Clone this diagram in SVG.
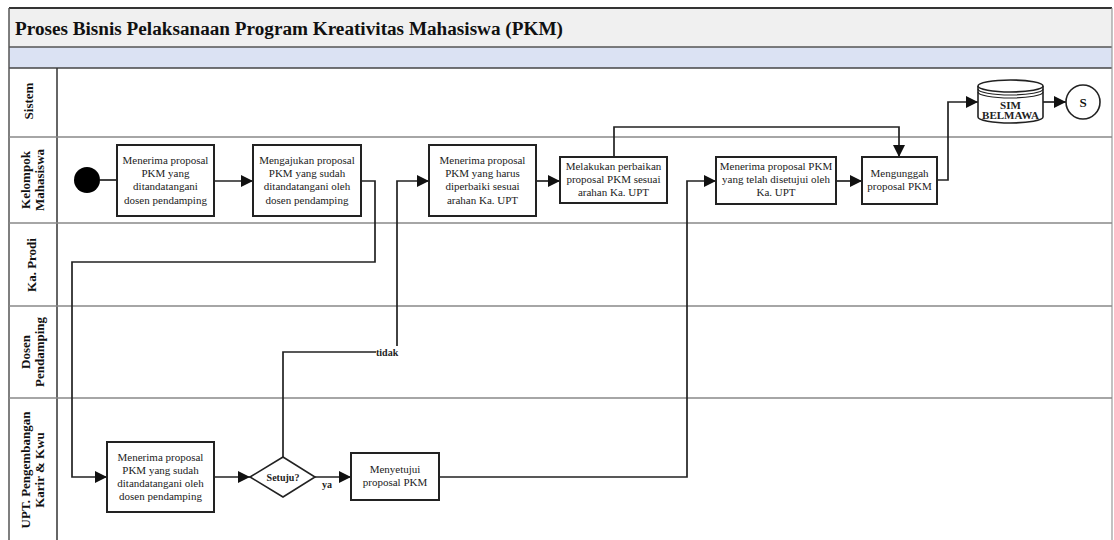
<svg xmlns="http://www.w3.org/2000/svg" width="1114" height="540" viewBox="0 0 1114 540">
  <style>
    text { font-family: "Liberation Serif", "DejaVu Serif", serif; }
    .lane-label { font-weight: bold; font-size: 13px; fill: #111; text-anchor: middle; }
    .box { fill: #fff; stroke: #222; stroke-width: 2; }
    .box-text { font-size: 11px; fill: #222; text-anchor: middle; }
    .flow { fill: none; stroke: #222; stroke-width: 1.7; }
    .lane-line { stroke: #888; stroke-width: 1.3; }
    .small-bold { font-weight: bold; font-size: 10px; fill: #222; }
  </style>
  <defs>
    <marker id="arrow" markerUnits="userSpaceOnUse" markerWidth="14" markerHeight="12" refX="12" refY="6" orient="auto">
      <path d="M0,0 L12,6 L0,12 Z" fill="#111"/>
    </marker>
  </defs>

  <rect width="1114" height="540" fill="#fff"/>

  <!-- pool header -->
  <g id="pool">
    <rect x="9" y="8" width="1103" height="39" fill="#f0f0f0"/>
    <rect x="9" y="47" width="1103" height="21" fill="#dbe2f3"/>
    <text x="15" y="35" font-weight="bold" font-size="19.2" fill="#111">Proses Bisnis Pelaksanaan Program Kreativitas Mahasiswa (PKM)</text>
    <line x1="9" y1="47" x2="1112" y2="47" stroke="#555" stroke-width="1.5"/>
    <line x1="9" y1="68" x2="1112" y2="68" stroke="#444" stroke-width="1.5"/>
    <line x1="9" y1="8" x2="1112" y2="8" stroke="#333" stroke-width="2"/>
    <line x1="9" y1="8" x2="9" y2="540" stroke="#555" stroke-width="1.5"/>
    <line x1="1112" y1="8" x2="1112" y2="540" stroke="#999" stroke-width="1.2"/>
  </g>

  <!-- swimlanes -->
  <g id="lanes">
    <line x1="57" y1="68" x2="57" y2="540" stroke="#333" stroke-width="1.5"/>
    <line class="lane-line" x1="9" y1="137" x2="1112" y2="137" stroke="#444"/>
    <line class="lane-line" x1="9" y1="223" x2="1112" y2="223"/>
    <line class="lane-line" x1="9" y1="306" x2="1112" y2="306"/>
    <line class="lane-line" x1="9" y1="398" x2="1112" y2="398"/>
    <text class="lane-label" transform="translate(33,101) rotate(-90)">Sistem</text>
    <text class="lane-label" transform="translate(30,180) rotate(-90)">Kelompok</text>
    <text class="lane-label" transform="translate(44,180) rotate(-90)">Mahasiswa</text>
    <text class="lane-label" transform="translate(36,265) rotate(-90)">Ka. Prodi</text>
    <text class="lane-label" transform="translate(30,352) rotate(-90)">Dosen</text>
    <text class="lane-label" transform="translate(44,352) rotate(-90)">Pendamping</text>
    <text class="lane-label" transform="translate(30,470) rotate(-90)">UPT. Pengembangan</text>
    <text class="lane-label" transform="translate(44,470) rotate(-90)">Karir &amp; Kwu</text>
  </g>

  <!-- connectors -->
  <g id="connectors">
    <line class="flow" x1="100" y1="180" x2="117" y2="180"/>
    <line class="flow" x1="214" y1="181" x2="253" y2="181" marker-end="url(#arrow)"/>
    <path class="flow" d="M361,181 H375 V262 H72 V477 H107" marker-end="url(#arrow)"/>
    <line class="flow" x1="536" y1="181" x2="560" y2="181" marker-end="url(#arrow)"/>
    <path class="flow" d="M614,157 V127 H899 V157" marker-end="url(#arrow)"/>
    <line class="flow" x1="836" y1="181" x2="862" y2="181" marker-end="url(#arrow)"/>
    <path class="flow" d="M937,180 H948 V102 H978" marker-end="url(#arrow)"/>
    <line class="flow" x1="1043" y1="102" x2="1066" y2="102" marker-end="url(#arrow)"/>
    <line class="flow" x1="214" y1="477" x2="250" y2="477" marker-end="url(#arrow)"/>
    <path class="flow" d="M283,457 V352 H376"/>
    <path class="flow" d="M397,346 V181 H429" marker-end="url(#arrow)"/>
    <line class="flow" x1="315" y1="477" x2="351" y2="477" marker-end="url(#arrow)"/>
    <path class="flow" d="M439,477 H687 V181 H716" marker-end="url(#arrow)"/>
    <text class="small-bold" x="376" y="356">tidak</text>
    <text class="small-bold" x="322" y="488">ya</text>
  </g>

  <!-- start event -->
  <g id="start">
    <circle cx="87" cy="180" r="13" fill="#000"/>
  </g>

  <g id="terima-ttd">
    <rect class="box" x="117" y="145" width="97" height="71"/>
    <text class="box-text" x="165.5" y="164">Menerima proposal</text>
    <text class="box-text" x="165.5" y="177">PKM yang</text>
    <text class="box-text" x="165.5" y="190">ditandatangani</text>
    <text class="box-text" x="165.5" y="204">dosen pendamping</text>
  </g>

  <g id="ajukan">
    <rect class="box" x="253" y="145" width="108" height="71"/>
    <text class="box-text" x="307" y="164">Mengajukan proposal</text>
    <text class="box-text" x="307" y="177">PKM yang sudah</text>
    <text class="box-text" x="307" y="190">ditandatangani oleh</text>
    <text class="box-text" x="307" y="204">dosen pendamping</text>
  </g>

  <g id="terima-perbaikan">
    <rect class="box" x="429" y="145" width="107" height="71"/>
    <text class="box-text" x="482.5" y="164">Menerima proposal</text>
    <text class="box-text" x="482.5" y="177">PKM yang harus</text>
    <text class="box-text" x="482.5" y="190">diperbaiki sesuai</text>
    <text class="box-text" x="482.5" y="204">arahan Ka. UPT</text>
  </g>

  <g id="perbaikan">
    <rect class="box" x="560" y="157" width="107" height="46"/>
    <text class="box-text" x="613.5" y="170">Melakukan perbaikan</text>
    <text class="box-text" x="613.5" y="183">proposal PKM sesuai</text>
    <text class="box-text" x="613.5" y="196">arahan Ka. UPT</text>
  </g>

  <g id="terima-setuju">
    <rect class="box" x="716" y="157" width="120" height="47"/>
    <text class="box-text" x="776" y="170">Menerima proposal PKM</text>
    <text class="box-text" x="776" y="183">yang telah disetujui oleh</text>
    <text class="box-text" x="776" y="196">Ka. UPT</text>
  </g>

  <g id="unggah">
    <rect class="box" x="862" y="157" width="75" height="47"/>
    <text class="box-text" x="899.5" y="177">Mengunggah</text>
    <text class="box-text" x="899.5" y="190">proposal PKM</text>
  </g>

  <g id="sim-belmawa">
    <path d="M978,86 V117 A32.5,6 0 0 0 1043,117 V86" fill="#fff" stroke="#222" stroke-width="1.6"/>
    <ellipse cx="1010.5" cy="86" rx="32.5" ry="6" fill="#fff" stroke="#222" stroke-width="1.6"/>
    <path d="M978,89 A32.5,6 0 0 0 1043,89" fill="none" stroke="#222" stroke-width="1.2"/>
    <path d="M978,92 A32.5,6 0 0 0 1043,92" fill="none" stroke="#222" stroke-width="1.2"/>
    <text class="box-text" x="1010.5" y="109" font-weight="bold" font-size="8">SIM</text>
    <text class="box-text" x="1010.5" y="119" font-weight="bold" font-size="8">BELMAWA</text>
  </g>

  <g id="end">
    <circle cx="1083" cy="102" r="17" fill="#fff" stroke="#222" stroke-width="1.6"/>
    <text x="1083" y="107" text-anchor="middle" font-weight="bold" font-size="13" fill="#111">S</text>
  </g>

  <g id="terima-upt">
    <rect class="box" x="107" y="442" width="107" height="70"/>
    <text class="box-text" x="160.5" y="461">Menerima proposal</text>
    <text class="box-text" x="160.5" y="474">PKM yang sudah</text>
    <text class="box-text" x="160.5" y="487">ditandatangani oleh</text>
    <text class="box-text" x="160.5" y="500">dosen pendamping</text>
  </g>

  <g id="setuju">
    <path d="M250,477 L283,457 L315,477 L283,497 Z" fill="#fff" stroke="#222" stroke-width="1.6"/>
    <text class="small-bold" x="283" y="481" text-anchor="middle">Setuju?</text>
  </g>

  <g id="menyetujui">
    <rect class="box" x="351" y="453" width="88" height="47"/>
    <text class="box-text" x="395" y="473">Menyetujui</text>
    <text class="box-text" x="395" y="486">proposal PKM</text>
  </g>
</svg>
